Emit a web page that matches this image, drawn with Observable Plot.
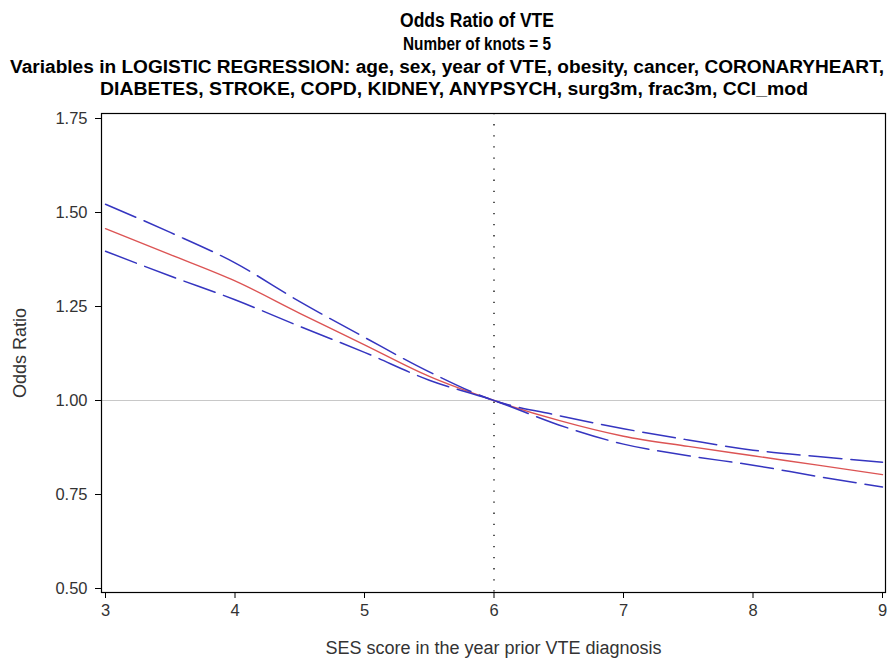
<!DOCTYPE html>
<html>
<head>
<meta charset="utf-8">
<script src="https://cdn.jsdelivr.net/npm/d3@7"></script>
<script src="https://cdn.jsdelivr.net/npm/@observablehq/plot@0.6"></script>
<style>
  html, body { margin: 0; padding: 0; background: #fff; }
  #chart svg { display: block; }
</style>
</head>
<body>
<div id="chart"></div>
<script>
// ---- data ----
const ses        = [3,     3.5,   4,     4.5,   5,     5.5,   6,     6.5,   7,     7.5,   8,     8.5,   9];
const oddsRatio  = [1.457, 1.388, 1.318, 1.232, 1.148, 1.064, 1.000, 0.947, 0.905, 0.878, 0.853, 0.828, 0.803];
const upperCL    = [1.522, 1.447, 1.366, 1.263, 1.168, 1.076, 1.000, 0.960, 0.925, 0.895, 0.868, 0.851, 0.836];
const lowerCL    = [1.397, 1.331, 1.268, 1.197, 1.128, 1.054, 1.000, 0.935, 0.884, 0.853, 0.828, 0.798, 0.770];
const xTicks     = [3, 4, 5, 6, 7, 8, 9];
const yTicks     = [0.50, 0.75, 1.00, 1.25, 1.50, 1.75];
const refY       = [1];
const refX       = [6];
const titleLines = [
  "Odds Ratio of VTE",
  "Number of knots = 5",
  "Variables in LOGISTIC REGRESSION: age, sex, year of VTE, obesity, cancer, CORONARYHEART,",
  "DIABETES, STROKE, COPD, KIDNEY, ANYPSYCH, surg3m, frac3m, CCI_mod"
];
const xLabel = "SES score in the year prior VTE diagnosis";
const yLabel = "Odds Ratio";

// ---- title block ----
const titleLayout = [
  {cx: 477, y: 27, size: 19.5, len: 154},
  {cx: 477, y: 50, size: 17.5, len: 148},
  {cx: 447, y: 73, size: 18,   len: 874},
  {cx: 454, y: 95, size: 18,   len: 708}
];
const header = d3.create("svg")
  .attr("width", 887).attr("height", 100)
  .attr("viewBox", "0 0 887 100");
header.selectAll("text")
  .data(titleLines)
  .join("text")
  .attr("x", (d, i) => titleLayout[i].cx)
  .attr("y", (d, i) => titleLayout[i].y)
  .attr("text-anchor", "middle")
  .attr("font-family", "'Liberation Sans', Arial, sans-serif")
  .attr("font-weight", "bold")
  .attr("font-size", (d, i) => titleLayout[i].size)
  .attr("fill", "#000")
  .attr("textLength", (d, i) => titleLayout[i].len)
  .attr("lengthAdjust", "spacingAndGlyphs")
  .text(d => d);
document.getElementById("chart").append(header.node());

// ---- table for the lines ----
const rows = ses.map((x, i) => ({x, or: oddsRatio[i], hi: upperCL[i], lo: lowerCL[i]}));

const font = "'Liberation Sans', Arial, sans-serif";

const chart = Plot.plot({
  width: 887,
  height: 559,
  marginTop: 13,
  marginBottom: 67,
  marginLeft: 101,
  marginRight: 2,
  style: {fontFamily: font, background: "#fff", overflow: "visible"},
  x: {domain: [3, 9], insetLeft: 4, insetRight: 3},
  y: {domain: [0.5, 1.75], insetTop: 5, insetBottom: 4},
  marks: [
    Plot.ruleY(refY, {stroke: "#c8c8c8", strokeWidth: 1.2}),
    Plot.ruleX(refX, {stroke: "#000", strokeWidth: 1.3, strokeDasharray: "1.3,9.8"}),
    Plot.line(rows, {x: "x", y: "or", stroke: "#dc5454", strokeWidth: 1.4, curve: "monotone-x"}),
    Plot.line(rows, {x: "x", y: "hi", stroke: "#3535c0", strokeWidth: 1.5, strokeDasharray: "33,9", curve: "monotone-x"}),
    Plot.line(rows, {x: "x", y: "lo", stroke: "#3535c0", strokeWidth: 1.5, strokeDasharray: "33,9", curve: "monotone-x"}),
    Plot.frame({stroke: "#000", strokeWidth: 1.2}),
    Plot.axisX({ticks: xTicks, tickSize: 6, tickPadding: 6, fontSize: 16.5, color: "#333", stroke: "#000", label: null, tickFormat: d3.format("d")}),
    Plot.axisY({ticks: yTicks, tickSize: 6, tickPadding: 8, fontSize: 16.5, color: "#333", stroke: "#000", label: null, tickFormat: d3.format(".2f")}),
    Plot.text([xLabel], {text: d => d, frameAnchor: "bottom", textAnchor: "middle", lineAnchor: "middle", dy: 56, fontSize: 18, fill: "#333"}),
    Plot.text([yLabel], {text: d => d, frameAnchor: "left", textAnchor: "middle", lineAnchor: "middle", dx: -81, rotate: -90, fontSize: 18, fill: "#333"})
  ]
});
document.getElementById("chart").append(chart);
</script>
</body>
</html>
